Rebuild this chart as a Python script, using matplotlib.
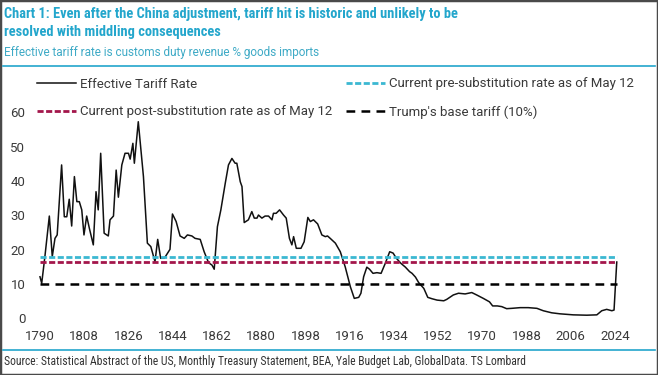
import os
import matplotlib
matplotlib.use("Agg")
import matplotlib.pyplot as plt
import matplotlib.font_manager as fm
from matplotlib.patches import Rectangle
from matplotlib.lines import Line2D

# ---- data ----
years = [1790, 1790.7, 1792, 1793.8, 1795, 1796.1, 1797, 1798.8, 1799.9, 1800.9,
         1801.9, 1802.9, 1804, 1805, 1806, 1807, 1807.9, 1809, 1810.1, 1811.7,
         1812.8, 1813.7, 1814.7, 1816.1, 1817.8, 1818.5, 1819.9, 1821, 1821.9, 1823.3,
         1824.6, 1826, 1826.7, 1827.8, 1828.4, 1830, 1832.1, 1833.7, 1835.1, 1836.8,
         1837.9, 1839.1, 1840.6, 1842.9, 1843.9, 1845.4, 1847, 1848.7, 1850, 1851.8,
         1853.1, 1855.2, 1856.8, 1858.6, 1860, 1860.9, 1862.2, 1863.6, 1865.4, 1866.7,
         1868.1, 1869.4, 1870.1, 1871.5, 1872.2, 1873.1, 1874.8, 1876.2, 1877.2, 1878.3,
         1878.9, 1880.3, 1881.6, 1883, 1884.4, 1885, 1886.1, 1887.5, 1889.1, 1890.2,
         1891.5, 1892.5, 1893.2, 1894.3, 1896.2, 1897.5, 1899, 1900, 1901.3, 1903,
         1904.7, 1906.1, 1907, 1908.1, 1910.2, 1912.2, 1914.2, 1916.3, 1917.9, 1919.7,
         1920.6, 1921.7, 1923, 1924.1, 1925.5, 1927.1, 1928.8, 1930.5, 1932.3, 1933.7,
         1935, 1936.9, 1938.7, 1940.4, 1941.4, 1942.8, 1944.1, 1946.2, 1947.8, 1949.5,
         1951.6, 1954.3, 1955.5, 1958.2, 1960.3, 1963, 1965.7, 1967.7, 1970.4, 1972.9,
         1974.2, 1976.1, 1977.9, 1979.9, 1982, 1985.4, 1988.7, 1992.2, 1994.8, 1998.2,
         2001.6, 2007, 2012.5, 2016.6, 2018.6, 2020.6, 2022.7, 2023.6, 2024.7]
rates = [12.1, 10.2, 18.0, 29.8, 18.0, 23.3, 24.3, 44.7, 29.6, 29.6,
         34.7, 26.9, 41.3, 34.0, 34.0, 31.6, 24.3, 29.8, 26.2, 21.4,
         36.9, 31.6, 48.1, 24.8, 24.0, 28.7, 29.8, 43.2, 35.3, 44.7,
         48.1, 48.1, 46.4, 51.0, 45.2, 57.3, 41.3, 21.9, 20.9, 16.5,
         23.0, 17.5, 17.5, 20.1, 30.4, 28.2, 24.0, 23.3, 24.3, 24.0,
         23.3, 23.0, 19.4, 16.2, 15.5, 14.3, 26.7, 31.6, 39.4, 44.7,
         46.6, 45.2, 45.2, 39.8, 38.4, 27.9, 28.7, 31.1, 29.2, 29.2,
         30.1, 29.2, 29.8, 29.8, 28.7, 30.6, 30.6, 31.6, 30.1, 29.2,
         23.3, 21.4, 23.8, 20.4, 20.4, 22.3, 29.4, 28.2, 28.7, 27.5,
         24.3, 23.8, 24.0, 23.3, 21.9, 19.4, 15.0, 9.2, 5.8, 6.1,
         7.3, 12.1, 14.9, 14.3, 13.1, 13.3, 13.1, 16.0, 19.4, 19.0,
         17.5, 16.0, 14.9, 13.6, 13.1, 12.0, 10.4, 8.7, 6.1, 5.7,
         5.3, 5.1, 5.5, 6.8, 7.3, 7.1, 7.5, 6.8, 5.8, 4.8,
         3.6, 3.6, 3.4, 2.8, 2.9, 3.1, 3.1, 2.9, 2.2, 1.6,
         1.3, 1.0, 0.9, 1.0, 2.2, 2.6, 2.2, 2.4, 16.4]

pre_sub_rate = 17.8
post_sub_rate = 16.4
base_tariff = 10.0
line_start, line_end = 1790, 2024.7

xticks = [1790, 1808, 1826, 1844, 1862, 1880, 1898, 1916, 1934, 1952, 1970, 1988, 2006, 2024]
yticks = [0, 10, 20, 30, 40, 50, 60]

title = ("Chart 1: Even after the China adjustment, tariff hit is historic and unlikely to be\n"
         "resolved with middling consequences")
subtitle = "Effective tariff rate is customs duty revenue % goods imports"
source = ("Source: Statistical Abstract of the US, Monthly Treasury Statement, BEA, "
          "Yale Budget Lab, GlobalData. TS Lombard")

TEAL = "#23a6cc"
CYAN = "#3bb8d2"
RED = "#a3164b"
GREY = "#3a3a3a"

plt.rcParams['font.family'] = ['Roboto', 'DejaVu Sans']


def _wnum(w):
    if isinstance(w, (int, float)):
        return w
    return fm.weight_dict.get(str(w).lower(), 400)


def find_condensed(bold):
    prefs = ["roboto", "liberation", "open sans", "noto sans", "dejavu", "lato", "inter"]
    best = None
    for f in fm.fontManager.ttflist:
        base = os.path.basename(f.fname).lower()
        n = f.name.lower()
        cond = ("narrow" in n or "condensed" in n or "narrow" in base or
                "condensed" in base or str(f.stretch) in ("condensed", "semi-condensed"))
        if not cond or f.style != "normal" or "mono" in base or "mono" in n:
            continue
        w = _wnum(f.weight)
        if bold and w < 600:
            continue
        if not bold and not (300 <= w <= 450):
            continue
        rank = next((i for i, p in enumerate(prefs) if p in n), len(prefs))
        if best is None or rank < best[0]:
            best = (rank, f.fname)
    return best[1] if best else None


cond_bold = find_condensed(True)
cond_reg = find_condensed(False)
title_fp = fm.FontProperties(fname=cond_bold) if cond_bold else fm.FontProperties(family="Roboto", weight="bold")
src_fp = fm.FontProperties(fname=cond_reg) if cond_reg else fm.FontProperties(family="Roboto")
sub_fp = fm.FontProperties(family="Roboto", weight="normal")

fig = plt.figure(figsize=(6.58, 3.75), dpi=100)
fig.patch.set_facecolor("white")

ax = fig.add_axes([0.0533, 0.1421, 0.8926, 0.5763])
ax.set_xlim(1788, 2027)
ax.set_ylim(-1, 62)

l_eff, = ax.plot(years, rates, color="#111111", lw=1.1, label="Effective Tariff Rate")
l_pre, = ax.plot([line_start, line_end], [pre_sub_rate] * 2, color=CYAN, lw=2.0,
                 ls=(0, (2.2, 0.9)), label="Current pre-substitution rate as of May 12")
l_post, = ax.plot([line_start, line_end], [post_sub_rate] * 2, color=RED, lw=2.0,
                  ls=(0, (2.2, 0.9)), label="Current post-substitution rate as of May 12")
l_base, = ax.plot([line_start, line_end], [base_tariff] * 2, color="black", lw=1.8,
                  ls=(0, (3.5, 2.5)), label="Trump's base tariff (10%)")

for s in ax.spines.values():
    s.set_visible(False)
ax.set_xticks(xticks)
ax.set_yticks(yticks)
ax.tick_params(length=0, labelsize=9.5, colors=GREY, pad=6)
ax.tick_params(axis="y", pad=7)

leg = fig.legend(handles=[l_eff, l_post, l_pre, l_base], ncol=2,
                 loc="upper left", bbox_to_anchor=(0.038, 0.825),
                 frameon=False, fontsize=9.5, handlelength=3.0, handletextpad=0.3,
                 columnspacing=1.0, labelspacing=1.13)
for t in leg.get_texts():
    t.set_color(GREY)

t_title = fig.text(0.006, 0.982, title, color=TEAL, fontsize=11.5, fontproperties=title_fp,
                   va="top", ha="left", linespacing=1.38)
t_sub = fig.text(0.006, 0.842, subtitle, color="#3eaac6", fontsize=10, fontproperties=sub_fp,
                 va="bottom", ha="left")
t_src = fig.text(0.006, 0.035, source, color="#333333", fontsize=7.6, fontproperties=src_fp,
                 va="center", ha="left")


def fit_width(txt, target_px, first_line=None):
    fig.canvas.draw()
    r = fig.canvas.get_renderer()
    if first_line is not None:
        orig = txt.get_text()
        txt.set_text(first_line)
        w = txt.get_window_extent(r).width
        txt.set_text(orig)
    else:
        w = txt.get_window_extent(r).width
    txt.set_fontsize(txt.get_fontsize() * target_px / w)


fit_width(t_title, 455, first_line=title.split("\n")[0])
fit_width(t_sub, 320)
fit_width(t_src, 516)

fig.add_artist(Line2D([0.004, 0.996], [0.824, 0.824], color=TEAL, lw=1.2,
                      transform=fig.transFigure))
fig.add_artist(Line2D([0.004, 0.996], [0.067, 0.067], color=TEAL, lw=1.2,
                      transform=fig.transFigure))

fig.add_artist(Rectangle((0, 0), 1, 1, transform=fig.transFigure, fill=False,
                         edgecolor="#4a4a4a", lw=2.5))

fig.savefig("out.png", dpi=100, facecolor="white")
